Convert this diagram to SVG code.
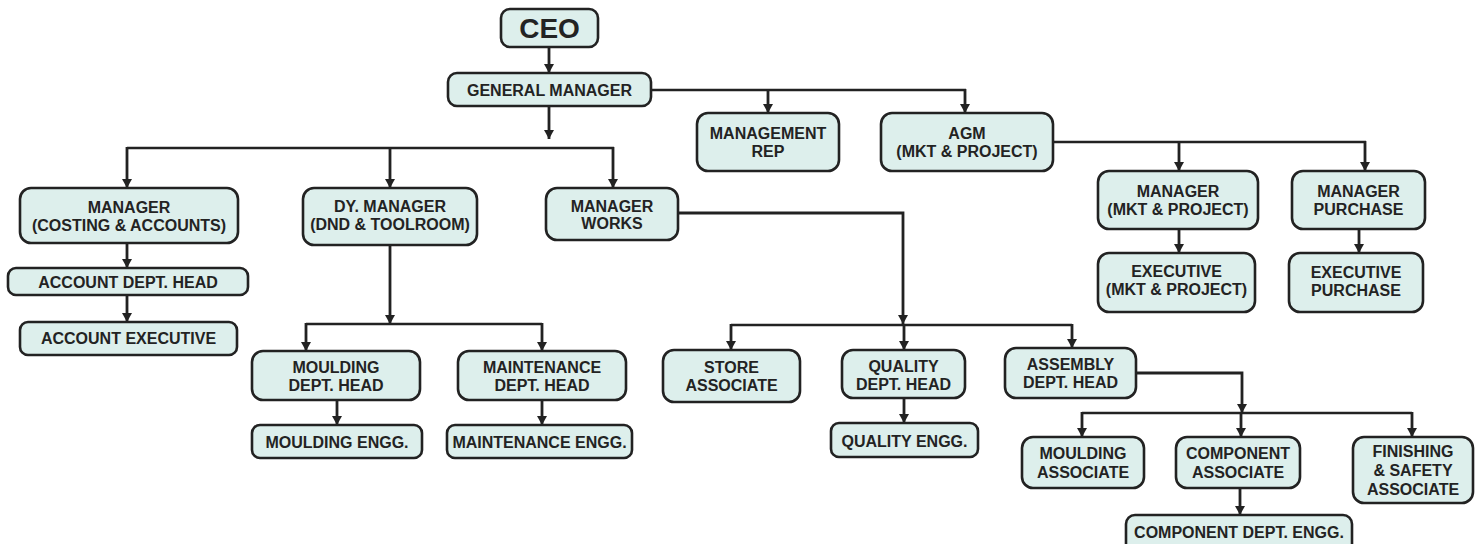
<svg xmlns="http://www.w3.org/2000/svg" width="1484" height="544" viewBox="0 0 1484 544">
<style>
  .box { fill: #ddefec; stroke: #222; stroke-width: 2.6; }
  .t { font-family: "Liberation Sans", Arial, sans-serif; font-weight: bold; font-size: 16px; fill: #232323; text-anchor: middle; }
  .ceo { font-size: 28px; }
  .c { fill: none; stroke: #222; stroke-width: 2.6; }
  .a { fill: none; stroke: #222; stroke-width: 2.8; marker-end: url(#ah); }
</style>
<defs>
  <marker id="ah" markerUnits="userSpaceOnUse" markerWidth="11" markerHeight="10" refX="10" refY="5.5" orient="auto" viewBox="0 0 10 11">
    <path d="M0,0 L10,5.5 L0,11 Z" fill="#222"/>
  </marker>
</defs>
<rect width="1484" height="544" fill="#ffffff"/>

<g id="connectors">
  <line class="a" x1="549" y1="47" x2="549" y2="73"/>
  <path class="c" d="M651,90 H966"/>
  <line class="a" x1="768" y1="89" x2="768" y2="113"/>
  <line class="a" x1="965" y1="89" x2="965" y2="113"/>
  <line class="a" x1="549" y1="106" x2="549" y2="139"/>
  <path class="c" d="M127,148 H614"/>
  <line class="a" x1="127" y1="147" x2="127" y2="188"/>
  <line class="a" x1="390" y1="147" x2="390" y2="188"/>
  <line class="a" x1="613" y1="147" x2="613" y2="188"/>
  <line class="a" x1="127" y1="243" x2="127" y2="268"/>
  <line class="a" x1="127" y1="295" x2="127" y2="322"/>
  <line class="a" x1="390" y1="245" x2="390" y2="324"/>
  <path class="c" d="M306,324 H542"/>
  <line class="a" x1="306" y1="323" x2="306" y2="351"/>
  <line class="a" x1="542" y1="323" x2="542" y2="351"/>
  <line class="a" x1="337" y1="400" x2="337" y2="425"/>
  <line class="a" x1="542" y1="400" x2="542" y2="425"/>
  <path class="a" d="M678,213 H903 V324"/>
  <path class="c" d="M731,325 H1072"/>
  <line class="a" x1="731" y1="324" x2="731" y2="350"/>
  <line class="a" x1="904" y1="324" x2="904" y2="350"/>
  <line class="a" x1="1072" y1="324" x2="1072" y2="348"/>
  <line class="a" x1="904" y1="398" x2="904" y2="423"/>
  <path class="a" d="M1136,373 H1242 V413"/>
  <path class="c" d="M1082,413 H1412"/>
  <line class="a" x1="1082" y1="412" x2="1082" y2="437"/>
  <line class="a" x1="1241" y1="412" x2="1241" y2="437"/>
  <line class="a" x1="1412" y1="412" x2="1412" y2="437"/>
  <line class="a" x1="1240" y1="488" x2="1240" y2="515"/>
  <path class="c" d="M1053,142 H1366"/>
  <line class="a" x1="1179" y1="141" x2="1179" y2="171"/>
  <line class="a" x1="1365" y1="141" x2="1365" y2="171"/>
  <line class="a" x1="1179" y1="229" x2="1179" y2="253"/>
  <line class="a" x1="1359" y1="229" x2="1359" y2="253"/>
</g>

<g id="ceo"><rect class="box" x="501" y="9" width="97" height="38" rx="9"/><text class="t ceo" x="549.5" y="38">CEO</text></g>
<g id="general-manager"><rect class="box" x="448" y="73" width="203" height="33" rx="9"/><text class="t" x="549.5" y="95.5">GENERAL MANAGER</text></g>
<g id="management-rep"><rect class="box" x="697" y="113" width="142" height="58" rx="11"/><text class="t" x="768" y="139">MANAGEMENT</text><text class="t" x="768" y="157">REP</text></g>
<g id="agm"><rect class="box" x="881" y="113" width="172" height="58" rx="11"/><text class="t" x="967" y="139">AGM</text><text class="t" x="967" y="157">(MKT &amp; PROJECT)</text></g>
<g id="manager-costing"><rect class="box" x="20" y="188" width="218" height="55" rx="11"/><text class="t" x="129" y="213">MANAGER</text><text class="t" x="129" y="231">(COSTING &amp; ACCOUNTS)</text></g>
<g id="dy-manager"><rect class="box" x="303" y="188" width="174" height="57" rx="11"/><text class="t" x="390" y="212">DY. MANAGER</text><text class="t" x="390" y="230">(DND &amp; TOOLROOM)</text></g>
<g id="manager-works"><rect class="box" x="546" y="188" width="132" height="52" rx="11"/><text class="t" x="612" y="212">MANAGER</text><text class="t" x="612" y="229">WORKS</text></g>
<g id="manager-mkt"><rect class="box" x="1098" y="171" width="160" height="58" rx="11"/><text class="t" x="1178" y="197">MANAGER</text><text class="t" x="1178" y="215">(MKT &amp; PROJECT)</text></g>
<g id="manager-purchase"><rect class="box" x="1292" y="171" width="133" height="58" rx="11"/><text class="t" x="1358.5" y="197">MANAGER</text><text class="t" x="1358.5" y="215">PURCHASE</text></g>
<g id="account-dept-head"><rect class="box" x="8" y="268" width="240" height="27" rx="8"/><text class="t" x="128" y="287.5">ACCOUNT DEPT. HEAD</text></g>
<g id="account-executive"><rect class="box" x="20" y="322" width="217" height="33" rx="8"/><text class="t" x="128.5" y="344">ACCOUNT EXECUTIVE</text></g>
<g id="executive-mkt"><rect class="box" x="1098" y="253" width="157" height="59" rx="11"/><text class="t" x="1176.5" y="277">EXECUTIVE</text><text class="t" x="1176.5" y="295">(MKT &amp; PROJECT)</text></g>
<g id="executive-purchase"><rect class="box" x="1289" y="253" width="134" height="59" rx="11"/><text class="t" x="1356" y="278">EXECUTIVE</text><text class="t" x="1356" y="296">PURCHASE</text></g>
<g id="moulding-dept-head"><rect class="box" x="252" y="351" width="168" height="49" rx="11"/><text class="t" x="336" y="373">MOULDING</text><text class="t" x="336" y="391">DEPT. HEAD</text></g>
<g id="maintenance-dept-head"><rect class="box" x="458" y="351" width="168" height="49" rx="11"/><text class="t" x="542" y="373">MAINTENANCE</text><text class="t" x="542" y="391">DEPT. HEAD</text></g>
<g id="moulding-engg"><rect class="box" x="252" y="425" width="170" height="33" rx="8"/><text class="t" x="337" y="448">MOULDING ENGG.</text></g>
<g id="maintenance-engg"><rect class="box" x="447" y="425" width="185" height="33" rx="8"/><text class="t" x="539.5" y="448">MAINTENANCE ENGG.</text></g>
<g id="store-associate"><rect class="box" x="663" y="350" width="137" height="52" rx="11"/><text class="t" x="731.5" y="373">STORE</text><text class="t" x="731.5" y="391">ASSOCIATE</text></g>
<g id="quality-dept-head"><rect class="box" x="842" y="350" width="123" height="48" rx="11"/><text class="t" x="903.5" y="372">QUALITY</text><text class="t" x="903.5" y="390">DEPT. HEAD</text></g>
<g id="assembly-dept-head"><rect class="box" x="1005" y="348" width="131" height="50" rx="11"/><text class="t" x="1070.5" y="370">ASSEMBLY</text><text class="t" x="1070.5" y="388">DEPT. HEAD</text></g>
<g id="quality-engg"><rect class="box" x="831" y="423" width="147" height="34" rx="8"/><text class="t" x="904.5" y="446.5">QUALITY ENGG.</text></g>
<g id="moulding-associate"><rect class="box" x="1022" y="437" width="122" height="51" rx="11"/><text class="t" x="1083" y="459">MOULDING</text><text class="t" x="1083" y="477.5">ASSOCIATE</text></g>
<g id="component-associate"><rect class="box" x="1176" y="437" width="124" height="51" rx="11"/><text class="t" x="1238" y="459">COMPONENT</text><text class="t" x="1238" y="477.5">ASSOCIATE</text></g>
<g id="finishing-safety-associate"><rect class="box" x="1353" y="437" width="120" height="66" rx="11"/><text class="t" x="1413" y="457">FINISHING</text><text class="t" x="1413" y="476">&amp; SAFETY</text><text class="t" x="1413" y="495">ASSOCIATE</text></g>
<g id="component-dept-engg"><rect class="box" x="1126" y="515" width="226" height="40" rx="9"/><text class="t" x="1239" y="537.5">COMPONENT DEPT. ENGG.</text></g>
</svg>
